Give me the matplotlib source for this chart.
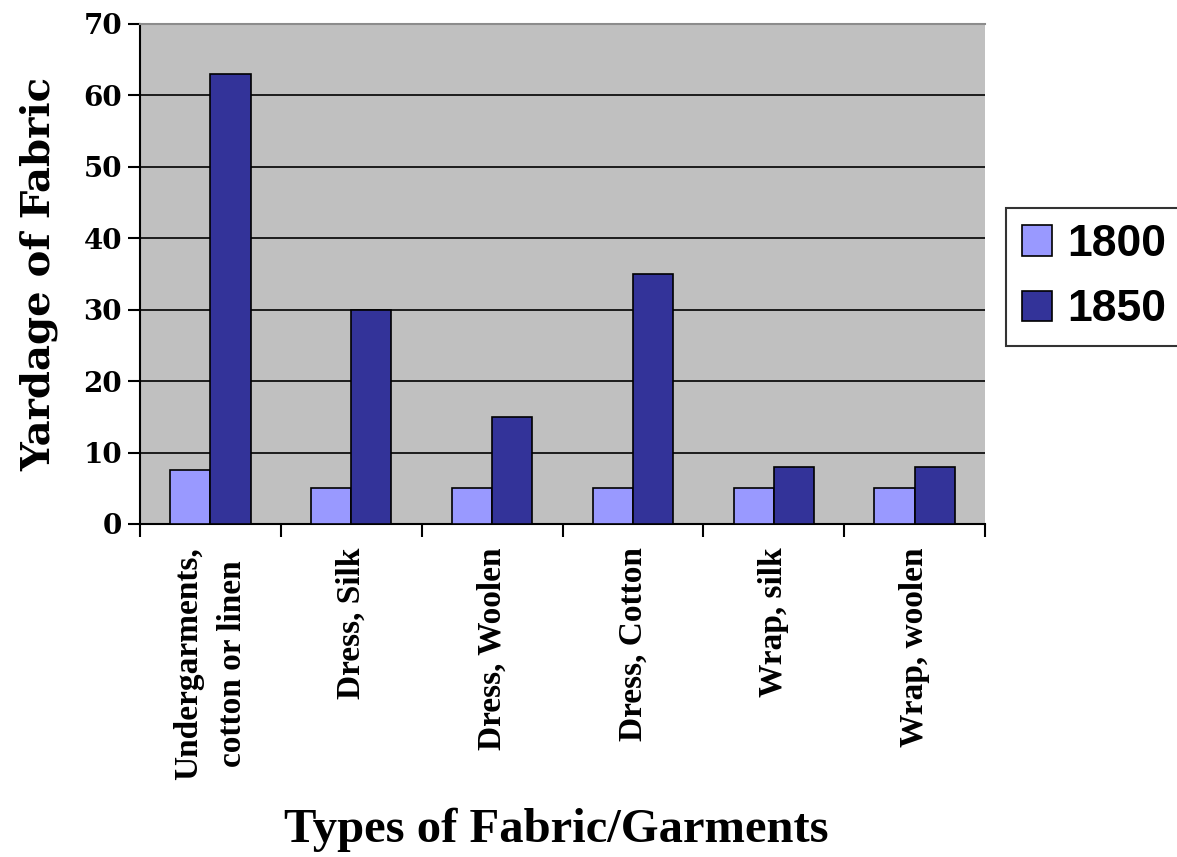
import matplotlib
matplotlib.use("Agg")
import matplotlib.pyplot as plt
import numpy as np

categories = ["Undergarments,\ncotton or linen", "Dress, Silk", "Dress, Woolen",
              "Dress, Cotton", "Wrap, silk", "Wrap, woolen"]
series_names = ["1800", "1850"]
values_1800 = [7.5, 5, 5, 5, 5, 5]
values_1850 = [63, 30, 15, 35, 8, 8]
yticks = [0, 10, 20, 30, 40, 50, 60, 70]

W, H = 1177, 857
fig = plt.figure(figsize=(W / 100, H / 100), dpi=100)
ax = fig.add_axes([140 / W, 1 - 524 / H, (985 - 140) / W, (524 - 24) / H])
ax.set_facecolor("#C0C0C0")

x = np.arange(len(categories))
bw = 1 / 3.5
ax.bar(x - bw / 2, values_1800, bw, color="#9999FF", edgecolor="black", linewidth=1.2,
       label=series_names[0], zorder=3)
ax.bar(x + bw / 2, values_1850, bw, color="#333399", edgecolor="black", linewidth=1.2,
       label=series_names[1], zorder=3)

ax.set_xlim(-0.5, len(categories) - 0.5)
ax.set_ylim(0, 70)
ax.set_yticks(yticks)
ax.yaxis.grid(True, color="black", linewidth=1.2, zorder=1)
ax.set_axisbelow(True)

ax.spines["right"].set_visible(False)
ax.spines["top"].set_color("#8C8C8C")
ax.spines["top"].set_linewidth(1.5)
ax.spines["left"].set_linewidth(1.5)
ax.spines["bottom"].set_linewidth(1.5)

ax.set_xticks(np.arange(-0.5, len(categories)), minor=False)
ax.set_xticklabels([])
ax.set_xticks(x, minor=True)
ax.set_xticklabels(categories, minor=True, rotation=90, fontsize=24,
                   family="Liberation Serif", fontweight="bold", ha="center", va="top",
                   multialignment="center", linespacing=1.55)
ax.tick_params(axis="x", which="major", length=9, width=1.5, direction="out")
ax.tick_params(axis="x", which="minor", length=0, pad=17)
ax.tick_params(axis="y", length=9, width=1.5, direction="out", pad=4)
for lab in ax.get_yticklabels():
    lab.set_fontfamily("DejaVu Serif")
    lab.set_fontweight("bold")
    lab.set_fontsize(20)

ax.set_ylabel("Yardage of Fabric", family="DejaVu Serif", fontweight="bold",
              fontsize=29, labelpad=18)
fig.text(556 / W, 1 - 830 / H, "Types of Fabric/Garments", family="Liberation Serif",
         fontweight="bold", fontsize=35, ha="center", va="center")

leg = ax.legend(loc="upper left", bbox_to_anchor=(1006 / W, 1 - 208 / H),
                bbox_transform=fig.transFigure, frameon=True, fancybox=False,
                prop={"family": "Liberation Sans", "weight": "bold", "size": 32},
                handlelength=0.68, handleheight=0.68, handletextpad=0.34,
                borderpad=0.36, labelspacing=0.55, borderaxespad=0)
leg.get_frame().set_edgecolor("black")
leg.get_frame().set_linewidth(1.5)

fig.savefig("out.png", dpi=100)
